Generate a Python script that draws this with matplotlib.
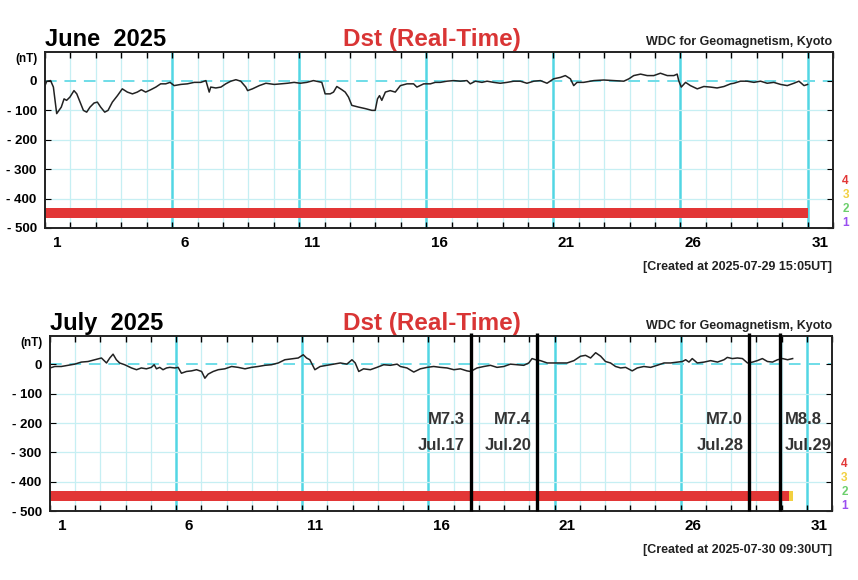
import numpy as np
import matplotlib
matplotlib.use("Agg")
import matplotlib.pyplot as plt
import matplotlib.transforms as mtransforms

plt.rcParams['font.family'] = ['Liberation Sans', 'DejaVu Sans']

# June 2025 Dst (day offset from start of month, nT)
june_day = [0.00, 0.07, 0.22, 0.33, 0.46, 0.55, 0.64, 0.75, 0.85, 0.98,
            1.14, 1.25, 1.38, 1.51, 1.64, 1.77, 1.93, 2.06, 2.19, 2.35,
            2.48, 2.65, 2.85, 3.04, 3.24, 3.44, 3.63, 3.79, 3.96, 4.16,
            4.36, 4.55, 4.75, 4.92, 5.08, 5.34, 5.60, 5.87, 6.13, 6.33,
            6.46, 6.52, 6.72, 6.92, 7.11, 7.31, 7.51, 7.70, 7.90, 7.97,
            8.16, 8.43, 8.69, 9.02, 9.28, 9.54, 9.80, 10.04, 10.30, 10.56,
            10.89, 11.02, 11.22, 11.35, 11.48, 11.68, 11.81, 11.94, 12.07, 12.34,
            12.60, 12.86, 12.99, 13.08, 13.16, 13.25, 13.39, 13.58, 13.78, 13.98,
            14.24, 14.50, 14.63, 14.90, 15.16, 15.35, 15.55, 15.81, 16.08, 16.34,
            16.60, 16.73, 16.93, 17.19, 17.39, 17.65, 17.91, 18.18, 18.44, 18.70,
            18.96, 19.23, 19.49, 19.75, 20.01, 20.28, 20.47, 20.67, 20.80, 20.93,
            21.19, 21.59, 21.98, 22.37, 22.77, 22.97, 23.16, 23.43, 23.69, 23.95,
            24.21, 24.48, 24.74, 24.87, 24.93, 25.03, 25.20, 25.39, 25.66, 25.92,
            26.18, 26.44, 26.71, 26.97, 27.10, 27.36, 27.62, 27.89, 28.15, 28.41,
            28.67, 28.94, 29.20, 29.46, 29.66, 29.86, 30.00]
june_dst = [-17, -2, 0, -22, -112, -101, -90, -62, -67, -56,
            -34, -45, -73, -101, -107, -90, -76, -73, -90, -107,
            -101, -73, -51, -28, -39, -45, -39, -31, -39, -31,
            -22, -11, -11, -6, -17, -13, -11, -6, -6, 0,
            -39, -22, -25, -22, -11, -2, 3, -2, -22, -34,
            -28, -17, -9, -13, -11, -9, -6, -9, -6, 0,
            -6, -45, -45, -39, -20, -31, -39, -56, -84, -90,
            -95, -101, -101, -62, -51, -67, -39, -34, -39, -17,
            -11, -11, -22, -11, -11, -6, -6, -2, 0, -2,
            0, -11, -2, -6, -2, -6, -9, -6, -2, -2,
            -9, -2, 0, -9, 6, 11, 17, 6, -17, -6,
            -6, 0, 2, 0, -2, 6, 17, 22, 17, 17,
            25, 17, 17, 22, 0, -22, -6, -17, -28, -20,
            -22, -25, -20, -11, -9, -2, -2, -6, -2, -9,
            -6, -13, -17, -9, -2, -17, -13]

# July 2025 Dst
july_day = [0.00, 0.19, 0.45, 0.71, 0.98, 1.24, 1.51, 1.77, 2.04, 2.24,
            2.37, 2.50, 2.63, 2.76, 2.96, 3.23, 3.43, 3.62, 3.82, 4.02,
            4.13, 4.22, 4.35, 4.48, 4.62, 4.75, 4.95, 5.08, 5.21, 5.41,
            5.61, 5.81, 6.01, 6.14, 6.27, 6.47, 6.67, 6.93, 7.20, 7.46,
            7.73, 7.99, 8.25, 8.52, 8.78, 9.05, 9.31, 9.58, 9.84, 10.04,
            10.17, 10.30, 10.50, 10.71, 10.98, 11.24, 11.51, 11.77, 11.97, 12.10,
            12.24, 12.43, 12.70, 12.96, 13.23, 13.49, 13.76, 13.89, 14.15, 14.42,
            14.68, 14.95, 15.21, 15.48, 15.74, 16.01, 16.27, 16.53, 16.67, 16.93,
            17.20, 17.46, 17.72, 17.99, 18.25, 18.52, 18.78, 18.98, 19.11, 19.25,
            19.44, 19.71, 19.97, 20.24, 20.50, 20.77, 21.03, 21.23, 21.43, 21.63,
            21.83, 22.02, 22.22, 22.42, 22.62, 22.82, 23.08, 23.28, 23.54, 23.81,
            24.07, 24.34, 24.60, 24.87, 25.07, 25.20, 25.33, 25.46, 25.66, 25.93,
            26.19, 26.46, 26.72, 26.85, 27.05, 27.25, 27.45, 27.65, 27.85, 28.04,
            28.24, 28.44, 28.64, 28.84, 29.04, 29.24, 29.44]
july_dst = [-12, -7, -7, -3, 1, 8, 10, 16, 22, 5,
            22, 35, 16, 5, -1, -12, -18, -12, -15, -10,
            -1, -15, -10, -18, -12, -10, -12, -10, -30, -24,
            -22, -18, -24, -47, -33, -24, -18, -15, -7, -10,
            -15, -10, -7, -3, -1, 5, 16, 19, 22, 33,
            22, 16, -18, -7, -3, 1, 5, 1, 16, 5,
            -24, -15, -18, -10, -1, -3, 1, -7, -12, -26,
            -15, -10, -7, -10, -12, -18, -15, -22, -24, -12,
            -7, -3, -10, -7, 1, -1, -3, 5, 20, 16,
            13, 5, 5, 5, 5, 13, 28, 31, 22, 40,
            28, 10, 5, -7, -12, -10, -22, -12, -7, -10,
            -3, 5, 5, 8, 10, 16, 8, 20, 5, 8,
            13, 8, 16, 24, 20, 22, 20, 5, 8, 13,
            20, 10, 8, 16, 20, 16, 20]

# data quality bar segments (start day, end day, level)
june_q_start = [0.0]
june_q_end = [30.0]
june_q_level = [4]
july_q_start = [0.0, 29.29]
july_q_end = [29.29, 29.44]
july_q_level = [4, 3]

# earthquakes marked on the July panel
quake_day = [16.67, 19.30, 27.70, 28.95]
quake_mag = ['M7.3', 'M7.4', 'M7.0', 'M8.8']
quake_date = ['Jul.17', 'Jul.20', 'Jul.28', 'Jul.29']
quake_side = ['left', 'left', 'left', 'right']

yticks = [0, -100, -200, -300, -400, -500]
ylabels = ['0', '- 100', '- 200', '- 300', '- 400', '- 500']
day_labels = [1, 6, 11, 16, 21, 26, 31]

level_colors = {4: '#e23636', 3: '#f2d040', 2: '#6ccf6c', 1: '#9a4ef0'}


def draw_panel(ax, day, dst, q_start, q_end, q_level):
    ax.set_xlim(0, 31)
    ax.set_ylim(-500, 97)
    # grid
    for d in range(1, 31):
        if d % 5 == 0:
            ax.axvline(d, color='#52d6e4', lw=1.8, zorder=1)
        else:
            ax.axvline(d, color='#c6eff3', lw=0.9, zorder=1)
    for v in yticks[1:-1]:
        ax.axhline(v, color='#c6eff3', lw=0.9, zorder=1)
    ax.axhline(0, color='#6fdde8', lw=1.4, ls=(0, (6, 4)), zorder=1)

    # quality bar
    for s, e, lv in zip(q_start, q_end, q_level):
        ax.broken_barh([(s, e - s)], (-466, 34), facecolors=level_colors[lv],
                       edgecolor='none', zorder=2)

    ax.plot(day, dst, color='#222222', lw=1.1, zorder=3)

    ax.set_yticks(yticks, labels=ylabels)
    ax.set_xticks(np.arange(0, 32), labels=[''] * 32)
    ax.set_xticks([d - 0.5 for d in day_labels], labels=[str(d) for d in day_labels],
                  minor=True)
    ax.tick_params(axis='x', which='major', direction='in', length=4,
                   top=True, bottom=True, width=1)
    ax.tick_params(axis='x', which='minor', length=0, pad=6, labelsize=11)
    ax.tick_params(axis='y', direction='in', length=4, left=True, right=True,
                   labelsize=9.5, pad=6)
    for lab in ax.get_xticklabels(minor=True) + ax.get_yticklabels():
        lab.set_fontweight('bold')
    for sp in ax.spines.values():
        sp.set_linewidth(1.4)
        sp.set_color('#222222')

    trans = mtransforms.blended_transform_factory(ax.transAxes, ax.transData)
    ax.text(-0.009, 74, '(nT)', transform=trans, ha='right', va='center',
            fontsize=8.5, fontweight='bold')
    for lv, yv in zip([4, 3, 2, 1], [-340, -388, -436, -484]):
        ax.text(1.016, yv, str(lv), transform=trans, ha='center', va='center',
                fontsize=8.5, fontweight='bold', color=level_colors[lv])


fig = plt.figure(figsize=(8.58, 5.80), dpi=100)
W, H = 858, 580

ax1 = fig.add_axes([45 / W, 1 - 228 / H, 788 / W, 176 / H])
draw_panel(ax1, june_day, june_dst, june_q_start, june_q_end, june_q_level)

ax2 = fig.add_axes([50 / W, 1 - 511 / H, 782 / W, 175 / H])
draw_panel(ax2, july_day, july_dst, july_q_start, july_q_end, july_q_level)

# header texts
fig.text(45 / W, 1 - 46 / H, 'June  2025', fontsize=17, fontweight='bold', va='baseline')
fig.text(432 / W, 1 - 46 / H, 'Dst (Real-Time)', fontsize=17.5, fontweight='bold',
         color='#d93535', ha='center', va='baseline')
fig.text(832 / W, 1 - 45 / H, 'WDC for Geomagnetism, Kyoto', fontsize=9,
         fontweight='bold', color='#222222', ha='right', va='baseline')
fig.text(832 / W, 1 - 270 / H, '[Created at 2025-07-29 15:05UT]', fontsize=9,
         fontweight='bold', color='#222222', ha='right', va='baseline')

fig.text(50 / W, 1 - 330 / H, 'July  2025', fontsize=17, fontweight='bold', va='baseline')
fig.text(432 / W, 1 - 330 / H, 'Dst (Real-Time)', fontsize=17.5, fontweight='bold',
         color='#d93535', ha='center', va='baseline')
fig.text(832 / W, 1 - 329 / H, 'WDC for Geomagnetism, Kyoto', fontsize=9,
         fontweight='bold', color='#222222', ha='right', va='baseline')
fig.text(832 / W, 1 - 553 / H, '[Created at 2025-07-30 09:30UT]', fontsize=9,
         fontweight='bold', color='#222222', ha='right', va='baseline')

# earthquake markers
ax2.vlines(quake_day, -500, 108, colors='black', lw=2.4, zorder=4, clip_on=False)
for qd, mag, date, side in zip(quake_day, quake_mag, quake_date, quake_side):
    dx = -4 if side == 'left' else 3
    ha = 'right' if side == 'left' else 'left'
    ax2.annotate(mag, (qd, -189), xytext=(dx, 0), textcoords='offset points',
                 ha=ha, va='center', fontsize=12, fontweight='bold', color='#333333')
    ax2.annotate(date, (qd, -275), xytext=(dx, 0), textcoords='offset points',
                 ha=ha, va='center', fontsize=12, fontweight='bold', color='#333333')

fig.savefig('out.png', dpi=100, facecolor='white')
